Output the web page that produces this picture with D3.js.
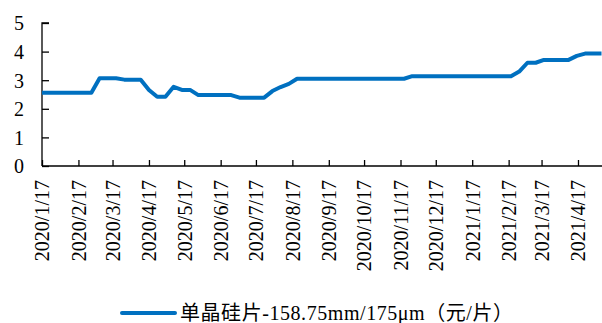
<!DOCTYPE html>
<html>
<head>
<meta charset="utf-8">
<script src="https://cdn.jsdelivr.net/npm/d3@7"></script>
<style>
  html, body { margin: 0; padding: 0; background: #fff; }
  svg { display: block; }
</style>
</head>
<body>
<svg id="chart" width="602" height="323"></svg>
<script>
// Weekly price of mono-crystalline wafers, starting 2020-01-17
const seriesName = "单晶硅片-158.75mm/175μm（元/片）";
const startDate = "2020-01-17";
const prices = [
  2.56, 2.56, 2.56, 2.56, 2.56, 2.56, 2.56,
  3.07, 3.07, 3.07,
  3.02, 3.02, 3.02,
  2.66, 2.42, 2.42, 2.77, 2.66, 2.66,
  2.48, 2.48, 2.48, 2.48, 2.48,
  2.39, 2.39, 2.39, 2.39,
  2.62, 2.76, 2.87,
  3.05, 3.05, 3.05, 3.05, 3.05, 3.05, 3.05, 3.05, 3.05, 3.05, 3.05, 3.05, 3.05, 3.05,
  3.14, 3.14, 3.14, 3.14, 3.14, 3.14, 3.14, 3.14, 3.14, 3.14, 3.14, 3.14, 3.14,
  3.30, 3.61, 3.61,
  3.71, 3.71, 3.71, 3.71,
  3.85, 3.93, 3.93, 3.93
];
const xTickLabels = [
  "2020/1/17", "2020/2/17", "2020/3/17", "2020/4/17", "2020/5/17", "2020/6/17",
  "2020/7/17", "2020/8/17", "2020/9/17", "2020/10/17", "2020/11/17", "2020/12/17",
  "2021/1/17", "2021/2/17", "2021/3/17", "2021/4/17"
];
const yTicks = [0, 1, 2, 3, 4, 5];

const FONT = "'Liberation Serif', 'Times New Roman', 'Noto Sans CJK SC', serif";

const parseLabel = d3.timeParse("%Y/%m/%d");
const t0 = d3.timeParse("%Y-%m-%d")(startDate);
const data = prices.map((v, i) => ({ date: d3.timeDay.offset(t0, 7 * i), value: v }));
const tickDates = xTickLabels.map(parseLabel);

const svg = d3.select("#chart");
const plotLeft = 42, plotRight = 601.5, plotTop = 23, plotBottom = 166;

const x = d3.scaleTime()
  .domain([t0, data[data.length - 1].date])
  .range([plotLeft, plotRight]);
const y = d3.scaleLinear().domain([0, 5]).range([plotBottom, plotTop]);

// y axis: inward ticks, labels set away on the left
const yAxis = svg.append("g").attr("transform", `translate(${plotLeft},0)`)
  .call(d3.axisRight(y).tickValues(yTicks).tickSize(7).tickFormat(d3.format("d")))
  .attr("font-family", FONT).attr("font-size", 20);
yAxis.select(".domain").attr("d", `M7,${plotTop}H0V${plotBottom}`).attr("stroke", "#000").attr("stroke-width", 1.3);
yAxis.selectAll(".tick line").attr("stroke", "#000").attr("stroke-width", 1.3);
yAxis.selectAll(".tick text")
  .attr("x", 24 - plotLeft).attr("text-anchor", "end").attr("dy", "0.34em")
  .attr("fill", "#000");

// x axis: monthly ticks pointing up, rotated labels
const xAxis = svg.append("g").attr("transform", `translate(0,${plotBottom})`)
  .call(d3.axisTop(x).tickValues(tickDates).tickSize(6)
    .tickFormat((d, i) => xTickLabels[i]))
  .attr("font-family", FONT).attr("font-size", 20);
xAxis.select(".domain").attr("d", `M${plotLeft},0H602`).attr("stroke", "#000").attr("stroke-width", 1.3);
xAxis.selectAll(".tick line").attr("stroke", "#000").attr("stroke-width", 1.3);
xAxis.selectAll(".tick text")
  .attr("transform", "rotate(-90)")
  .attr("x", -14).attr("y", 0)
  .attr("dy", "0.34em")
  .attr("text-anchor", "end")
  .attr("fill", "#000");

// price line
svg.append("path")
  .datum(data)
  .attr("fill", "none")
  .attr("stroke", "#0070C0")
  .attr("stroke-width", 4)
  .attr("stroke-linejoin", "round")
  .attr("d", d3.line().x(d => x(d.date)).y(d => y(d.value)));

// legend
const legend = svg.append("g").attr("transform", "translate(0,313)");
legend.append("line")
  .attr("x1", 122).attr("x2", 175).attr("y1", 0).attr("y2", 0)
  .attr("stroke", "#0070C0").attr("stroke-width", 4).attr("stroke-linecap", "round");
legend.append("text")
  .attr("x", 180).attr("y", 0).attr("dy", "0.35em")
  .attr("font-family", FONT).attr("font-size", 20).attr("fill", "#000")
  .attr("textLength", 333).attr("lengthAdjust", "spacing")
  .text(seriesName);
</script>
</body>
</html>
